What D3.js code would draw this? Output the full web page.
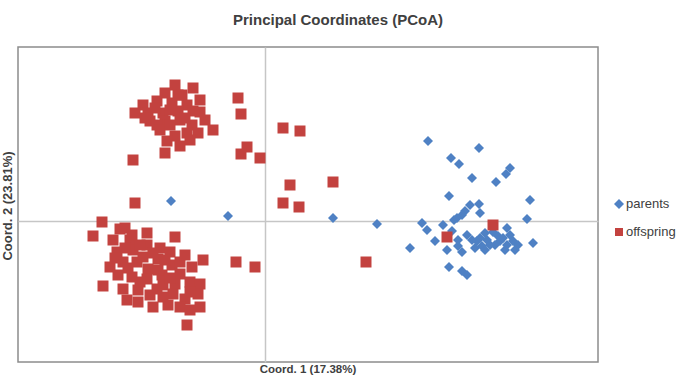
<!DOCTYPE html>
<html>
<head>
<meta charset="utf-8">
<script src="https://cdn.jsdelivr.net/npm/d3@7"></script>
<style>
  body { margin: 0; background: #fff; }
  text { font-family: "Liberation Sans Narrow", "Arial Narrow", "Liberation Sans", sans-serif; }
</style>
</head>
<body>
<div id="chart"></div>
<script>
// chart text
var title = "Principal Coordinates (PCoA)";
var xLabel = "Coord. 1 (17.38%)";
var yLabel = "Coord. 2 (23.81%)";
var seriesNames = ["parents", "offspring"];

// axis extents (no tick labels in the picture)
var xDomain = [-0.247, 0.333];
var yDomain = [-0.141, 0.174];

// parents: [coord1, coord2]
var parents = [
  [-0.094, 0.020], [-0.037, 0.005], [0.068, 0.003], [0.112, -0.003], [0.145, -0.027],
  [0.163, 0.080], [0.214, 0.073], [0.186, 0.063], [0.194, 0.057], [0.245, 0.053],
  [0.241, 0.047], [0.207, 0.043], [0.231, 0.039], [0.184, 0.025], [0.265, 0.021],
  [0.214, 0.017], [0.200, 0.010], [0.197, 0.006], [0.189, 0.001], [0.215, 0.008],
  [0.262, 0.002], [0.157, -0.002], [0.162, -0.009], [0.178, -0.004], [0.187, -0.010],
  [0.170, -0.020], [0.182, -0.029], [0.193, -0.025], [0.197, -0.031], [0.184, -0.046],
  [0.197, -0.050], [0.202, -0.054], [0.202, -0.014], [0.207, -0.019], [0.212, -0.020],
  [0.222, -0.019], [0.225, -0.024], [0.233, -0.015], [0.235, -0.020], [0.242, -0.007],
  [0.245, -0.014], [0.248, -0.020], [0.253, -0.024], [0.268, -0.022], [0.220, -0.012],
  [0.217, -0.025], [0.242, -0.024], [0.205, 0.016], [0.192, 0.003], [0.228, -0.011],
  [0.238, -0.017], [0.215, -0.017], [0.193, -0.019], [0.230, -0.024], [0.240, -0.029],
  [0.250, -0.029], [0.210, -0.027], [0.220, -0.029]
];

// offspring: [coord1, coord2]
var offspring = [
  // upper left group
  [-0.090, 0.136], [-0.072, 0.133], [-0.100, 0.128], [-0.083, 0.126], [-0.122, 0.116],
  [-0.108, 0.120], [-0.093, 0.118], [-0.078, 0.116], [-0.130, 0.108], [-0.117, 0.108],
  [-0.102, 0.108], [-0.087, 0.110], [-0.072, 0.110], [-0.115, 0.100], [-0.100, 0.100],
  [-0.085, 0.101], [-0.073, 0.096], [-0.060, 0.101], [-0.052, 0.091], [-0.067, 0.088],
  [-0.078, 0.088], [-0.090, 0.085], [-0.098, 0.080], [-0.085, 0.075], [-0.100, 0.068],
  [-0.132, 0.061], [-0.108, 0.096], [-0.105, 0.091], [-0.095, 0.111], [-0.065, 0.121],
  [-0.110, 0.113], [-0.080, 0.103], [-0.095, 0.096], [-0.065, 0.109], [-0.087, 0.126],
  [-0.120, 0.103], [-0.075, 0.081],
  // scattered middle
  [-0.027, 0.123], [-0.024, 0.107], [0.018, 0.093], [0.035, 0.090], [-0.018, 0.074],
  [-0.024, 0.067], [-0.005, 0.063], [0.025, 0.036], [0.068, 0.039], [0.018, 0.018],
  [0.034, 0.014], [-0.130, 0.018], [-0.029, -0.041], [-0.010, -0.046], [0.101, -0.041],
  [0.182, -0.016], [0.228, -0.004],
  // lower left group
  [-0.163, -0.001], [-0.172, -0.015], [-0.145, -0.008], [-0.118, -0.012], [-0.090, -0.016],
  [-0.152, -0.019], [-0.135, -0.019], [-0.148, -0.031], [-0.132, -0.029], [-0.118, -0.024],
  [-0.107, -0.038], [-0.155, -0.046], [-0.142, -0.041], [-0.128, -0.041], [-0.117, -0.048],
  [-0.093, -0.044], [-0.073, -0.046], [-0.062, -0.039], [-0.147, -0.054], [-0.133, -0.056],
  [-0.118, -0.058], [-0.103, -0.054], [-0.085, -0.053], [-0.162, -0.065], [-0.142, -0.068],
  [-0.127, -0.069], [-0.108, -0.068], [-0.090, -0.063], [-0.075, -0.061], [-0.065, -0.063],
  [-0.138, -0.079], [-0.127, -0.081], [-0.112, -0.086], [-0.092, -0.073], [-0.080, -0.078],
  [-0.067, -0.073], [-0.085, -0.086], [-0.065, -0.086], [-0.078, -0.104], [-0.102, -0.076],
  [-0.122, -0.036], [-0.102, -0.064], [-0.140, -0.007], [-0.105, -0.027], [-0.095, -0.031],
  [-0.140, -0.027], [-0.125, -0.024], [-0.112, -0.032], [-0.100, -0.039], [-0.085, -0.041],
  [-0.137, -0.047], [-0.107, -0.049], [-0.095, -0.057], [-0.125, -0.061], [-0.115, -0.074],
  [-0.097, -0.084], [-0.075, -0.071], [-0.150, -0.037], [-0.080, -0.034], [-0.075, -0.089],
  [-0.133, -0.014]
];

var W = 687, H = 376;
var plot = {left: 18, right: 598, top: 47, bottom: 362};

var svg = d3.select("#chart").append("svg")
    .attr("width", W)
    .attr("height", H);

var x = d3.scaleLinear().domain(xDomain).range([plot.left, plot.right]);
var y = d3.scaleLinear().domain(yDomain).range([plot.bottom, plot.top]);

// title
svg.append("text")
    .attr("x", 338)
    .attr("y", 25)
    .attr("text-anchor", "middle")
    .style("font-size", "15px")
    .style("font-weight", "bold")
    .style("fill", "#404040")
    .text(title);

// plot frame
svg.append("rect")
    .attr("x", plot.left)
    .attr("y", plot.top)
    .attr("width", plot.right - plot.left)
    .attr("height", plot.bottom - plot.top)
    .attr("fill", "#fff")
    .attr("stroke", "#8c8c8c")
    .attr("stroke-width", 1.5);

// zero axes crossing the plot
svg.append("g")
    .attr("transform", "translate(0," + y(0) + ")")
    .call(d3.axisBottom(x).tickValues([]).tickSizeOuter(0));
svg.append("g")
    .attr("transform", "translate(" + x(0) + ",0)")
    .call(d3.axisLeft(y).tickValues([]).tickSizeOuter(0));
svg.selectAll(".domain")
    .attr("stroke", "#c6c6c6")
    .attr("stroke-width", 1.5);

// parents (diamonds)
var diamond = d3.symbol().type(d3.symbolSquare).size(50);
svg.append("g").selectAll("path")
  .data(parents)
  .enter()
  .append("path")
    .attr("d", diamond)
    .attr("transform", function(d) { return "translate(" + x(d[0]) + "," + y(d[1]) + ")rotate(45)"; })
    .attr("fill", "#4f81c4");

// offspring (squares)
var square = d3.symbol().type(d3.symbolSquare).size(121);
svg.append("g").selectAll("path")
  .data(offspring)
  .enter()
  .append("path")
    .attr("d", square)
    .attr("transform", function(d) { return "translate(" + x(d[0]) + "," + y(d[1]) + ")"; })
    .attr("fill", "#c3423f");

// axis titles
svg.append("text")
    .attr("x", (plot.left + plot.right) / 2)
    .attr("y", 373)
    .attr("text-anchor", "middle")
    .style("font-size", "11.5px")
    .style("font-weight", "bold")
    .style("fill", "#404040")
    .text(xLabel);

svg.append("text")
    .attr("transform", "translate(12,206)rotate(-90)")
    .attr("text-anchor", "middle")
    .style("font-size", "13px")
    .style("font-weight", "bold")
    .style("fill", "#404040")
    .text(yLabel);

// legend
var legend = svg.append("g");
legend.append("path")
    .attr("d", diamond)
    .attr("transform", "translate(619,204)rotate(45)")
    .attr("fill", "#4f81c4");
legend.append("path")
    .attr("d", d3.symbol().type(d3.symbolSquare).size(64))
    .attr("transform", "translate(619,232)")
    .attr("fill", "#c3423f");
legend.selectAll("text.lbl")
  .data(seriesNames)
  .enter()
  .append("text")
    .attr("class", "lbl")
    .attr("x", 626)
    .attr("y", function(d, i) { return 208 + i * 28; })
    .style("font-size", "13px")
    .style("font-weight", "normal")
    .style("fill", "#404040")
    .text(function(d) { return d; });
</script>
</body>
</html>
